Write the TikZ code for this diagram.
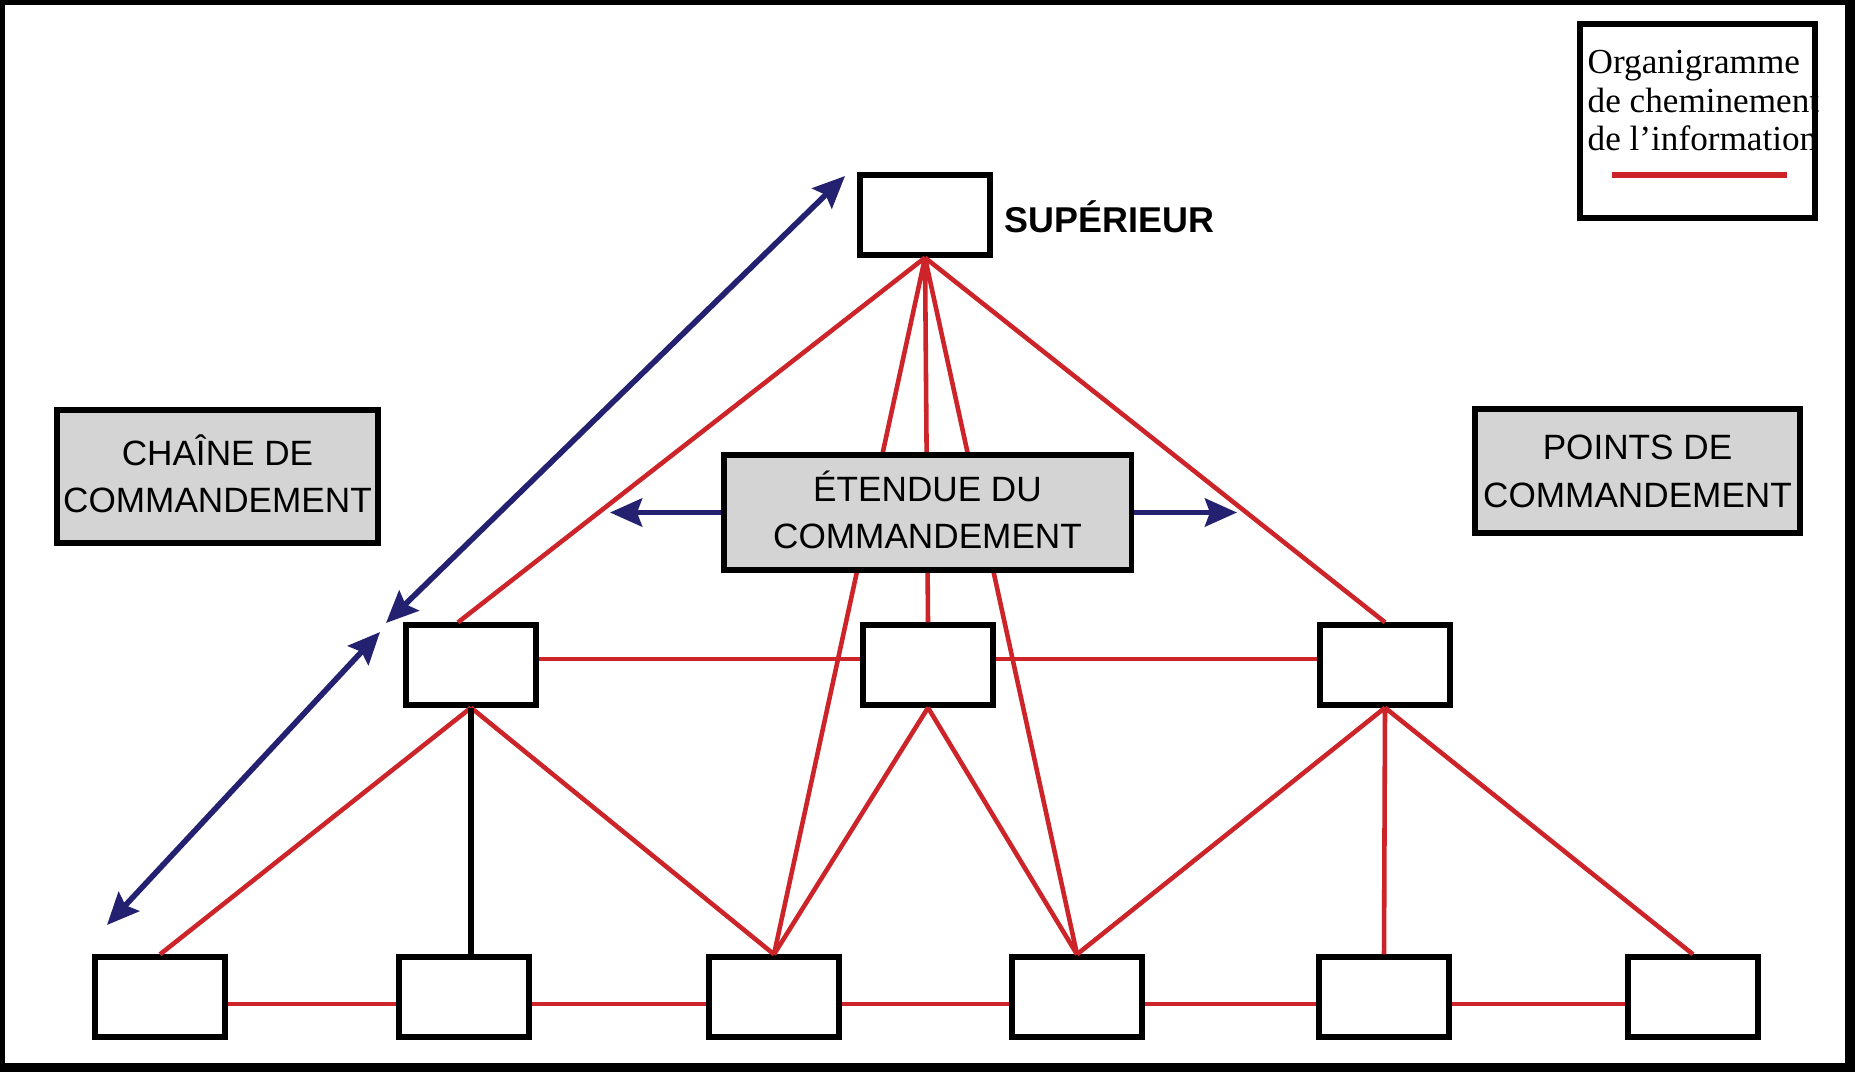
\documentclass[tikz,border=0pt]{standalone}
\usepackage{fontspec}
\setmainfont{Liberation Sans}
\newfontfamily\legendfont{Liberation Serif}
\usetikzlibrary{arrows.meta,positioning}
\definecolor{infored}{RGB}{204,36,41}
\definecolor{spannavy}{RGB}{36,34,112}
\definecolor{notegray}{RGB}{212,212,212}

\begin{document}
\begin{tikzpicture}[x=0.01cm,y=-0.01cm]
\tikzset{UnitStyle/.style = {draw, fill=white, line width=1.5pt, minimum width=1.3cm, minimum height=0.8cm, inner sep=0pt},
  NoteStyle/.style = {draw, fill=notegray, line width=1.5pt, align=center, inner sep=0pt, text height=0.72cm, text depth=0pt, font=\fontsize{10}{13.4}\selectfont},
  InfoStyle/.style = {draw=infored, line width=1.3pt},
  SpanStyle/.style = {draw=spannavy, line width=1.6pt, >={Stealth[length=0.32cm,width=0.28cm,inset=0.05cm]}}}

\fill[black] (0,0) rectangle (1855,1072); \fill[white] (5,5) rectangle (1845,1063);

\node[UnitStyle] (S) at (925,215) {};
\node[anchor=base west, inner sep=0pt, font=\bfseries\fontsize{10.2}{12}\selectfont] (Slabel) at (1004,232) {SUPÉRIEUR};
\node[UnitStyle] (M1) at (471,665) {}; \node[UnitStyle] (M2) at (928,665) {}; \node[UnitStyle] (M3) at (1385,665) {};
\node[UnitStyle] (B1) at (160,997) {}; \node[UnitStyle] (B2) at (464,997) {}; \node[UnitStyle] (B3) at (774,997) {};
\node[UnitStyle] (B4) at (1077,997) {}; \node[UnitStyle] (B5) at (1384,997) {}; \node[UnitStyle] (B6) at (1693,997) {};

\draw[InfoStyle] (S.south) -- ([xshift=-0.13cm]M1.north) (S.south) -- (M2.north) (S.south) -- (M3.north) (S.south) -- (B3.north) (S.south) -- (B4.north);
\draw[InfoStyle] (M1.5) -- (M2.175) (M2.5) -- (M3.175);
\draw[InfoStyle] (M1.south) -- (B1.north) (M1.south) -- (B3.north) (M2.south) -- (B3.north) (M2.south) -- (B4.north);
\draw[InfoStyle] (M3.south) -- (B4.north) (M3.south) -- (B5.north) (M3.south) -- (B6.north);
\draw[InfoStyle] (B1.-6) -- (B2.186) (B2.-6) -- (B3.186) (B3.-6) -- (B4.186) (B4.-6) -- (B5.186) (B5.-6) -- (B6.186);
\draw[line width=1.5pt] (M1.south) -- (M1.south |- B2.north);

\node[NoteStyle, minimum width=4.07cm, minimum height=1.15cm] (E) at (927.5,512.5) {ÉTENDUE DU\\COMMANDEMENT};
\node[NoteStyle, minimum width=3.21cm, minimum height=1.33cm] (C) at (217.5,476.5) {CHAÎNE DE\\COMMANDEMENT};
\node[NoteStyle, minimum width=3.25cm, minimum height=1.24cm] (P) at (1637.5,471) {POINTS DE\\COMMANDEMENT};

\coordinate (spanL) at (610,512.5); \coordinate (spanR) at (1237,512.5);
\draw[SpanStyle,->] (E.west) -- (spanL); \draw[SpanStyle,->] (E.east) -- (spanR);
\coordinate (chainTop) at (845,176); \coordinate (chainMid) at (386,623);
\coordinate (chainMidB) at (380,632); \coordinate (chainLow) at (107,925);
\draw[SpanStyle,<->] (chainMid) -- (chainTop); \draw[SpanStyle,<->] (chainLow) -- (chainMidB);

% legend
\node[draw, line width=1.5pt, minimum width=2.35cm, minimum height=1.94cm, inner sep=0pt] (key) at (1697.5,121) {};
\node[anchor=north west, align=left, inner sep=0pt, font=\legendfont\fontsize{10}{10.9}\selectfont] (keytext) at (1587,50) {Organigramme\\de cheminement\\de l’information};
\draw[InfoStyle, line width=1.8pt] (1612,175) -- (1787,175);
\end{tikzpicture}
\end{document}
